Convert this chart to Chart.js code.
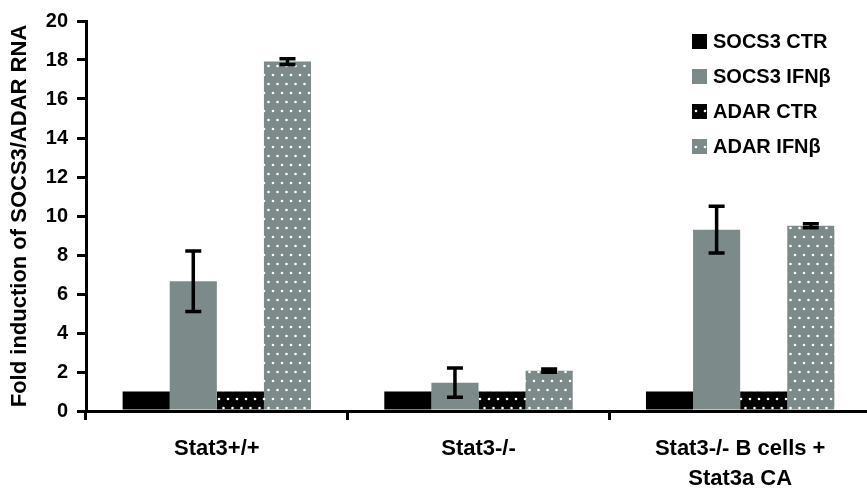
<!DOCTYPE html>
<html>
<head>
<meta charset="utf-8">
<script src="https://cdn.jsdelivr.net/npm/chart.js@4.4.1/dist/chart.umd.min.js"></script>
<style>
  html, body { margin: 0; padding: 0; background: #fff; overflow: hidden; }
  #wrap { position: relative; width: 871px; height: 491px; }
</style>
</head>
<body>
<div id="wrap"><canvas id="chart"></canvas></div>
<script>
const groups = ['Stat3+/+', 'Stat3-/-', ['Stat3-/- B cells +', 'Stat3a CA']];
const seriesNames = ['SOCS3 CTR', 'SOCS3 IFN\u03b2', 'ADAR CTR', 'ADAR IFN\u03b2'];
const socs3Ctr = [1, 1, 1];
const socs3Ifn = [6.65, 1.45, 9.3];
const adarCtr = [1, 1, 1];
const adarIfn = [17.92, 2.07, 9.5];
const socs3CtrErr = [0, 0, 0];
const socs3IfnErr = [1.55, 0.75, 1.2];
const adarCtrErr = [0, 0, 0];
const adarIfnErr = [0.15, 0.08, 0.1];
const yTicks = [0, 2, 4, 6, 8, 10, 12, 14, 16, 18, 20];

const GRAY = '#7c8a89';
const FONT = '"Liberation Sans", Arial, sans-serif';

function dotPattern(bg) {
  const c = document.createElement('canvas');
  c.width = 18; c.height = 18;
  const g = c.getContext('2d');
  g.fillStyle = bg;
  g.fillRect(0, 0, 18, 18);
  g.fillStyle = '#ffffff';
  [[3, 3], [12, 3], [7.5, 12], [16.5, 12]].forEach(([x, y]) => {
    g.beginPath();
    g.arc(x, y, 1.3, 0, Math.PI * 2);
    g.fill();
  });
  return g.createPattern(c, 'repeat');
}

const errorBars = {
  id: 'errorBars',
  afterDatasetsDraw(chart) {
    const ctx = chart.ctx;
    const y = chart.scales.y;
    ctx.save();
    ctx.strokeStyle = '#000';
    ctx.lineWidth = 3.5;
    chart.data.datasets.forEach((ds, i) => {
      const meta = chart.getDatasetMeta(i);
      meta.data.forEach((bar, j) => {
        const e = ds.errors[j];
        if (!e) return;
        const v = ds.data[j];
        const top = y.getPixelForValue(v + e);
        const bot = y.getPixelForValue(v - e);
        ctx.beginPath();
        ctx.moveTo(bar.x, top);
        ctx.lineTo(bar.x, bot);
        ctx.moveTo(bar.x - 8, top);
        ctx.lineTo(bar.x + 8, top);
        ctx.moveTo(bar.x - 8, bot);
        ctx.lineTo(bar.x + 8, bot);
        ctx.stroke();
      });
    });
    ctx.restore();
  }
};

const legendBox = {
  id: 'legendBox',
  afterDraw(chart) {
    const ctx = chart.ctx;
    ctx.save();
    ctx.font = 'bold 20px ' + FONT;
    ctx.textBaseline = 'middle';
    chart.data.datasets.forEach((ds, i) => {
      const cy = 41 + i * 35;
      ctx.fillStyle = ds.backgroundColor;
      ctx.fillRect(692, cy - 7, 15, 15);
      ctx.fillStyle = '#000';
      ctx.fillText(ds.label, 713, cy + 1);
    });
    ctx.restore();
  }
};

const values = [socs3Ctr, socs3Ifn, adarCtr, adarIfn];
const errs = [socs3CtrErr, socs3IfnErr, adarCtrErr, adarIfnErr];
const fills = ['#000000', GRAY, dotPattern('#000000'), dotPattern(GRAY)];

new Chart(document.getElementById('chart'), {
  type: 'bar',
  data: {
    labels: groups,
    datasets: seriesNames.map((name, i) => ({
      label: name,
      data: values[i],
      errors: errs[i],
      backgroundColor: fills[i],
      borderWidth: 0,
      categoryPercentage: 0.72,
      barPercentage: 1
    }))
  },
  options: {
    responsive: true,
    maintainAspectRatio: false,
    animation: false,
    layout: { padding: { top: 10, right: 0, left: 0, bottom: 0 } },
    plugins: { legend: { display: false }, tooltip: { enabled: false } },
    scales: {
      x: {
        grid: { display: true, drawOnChartArea: false, color: '#000', lineWidth: 3, tickLength: 9, offset: true },
        border: { color: '#000', width: 3 },
        ticks: { color: '#000', font: { family: FONT, size: 22, weight: 'bold', lineHeight: 1.35 }, padding: 14, maxRotation: 0 },
        afterFit(s) { s.height = 80; }
      },
      y: {
        min: 0,
        max: 20,
        afterBuildTicks(s) { s.ticks = yTicks.map(v => ({ value: v })); },
        grid: { display: true, drawOnChartArea: false, color: '#000', lineWidth: 3, tickLength: 9 },
        border: { color: '#000', width: 3 },
        ticks: { color: '#000', font: { family: FONT, size: 20, weight: 'bold' }, padding: 9 },
        title: {
          display: true,
          text: 'Fold induction of SOCS3/ADAR RNA',
          color: '#000',
          font: { family: FONT, size: 22, weight: 'bold' },
          padding: { top: 7, bottom: 0 }
        },
        afterFit(s) { s.width = 86; }
      }
    }
  },
  plugins: [errorBars, legendBox]
});
</script>
</body>
</html>
